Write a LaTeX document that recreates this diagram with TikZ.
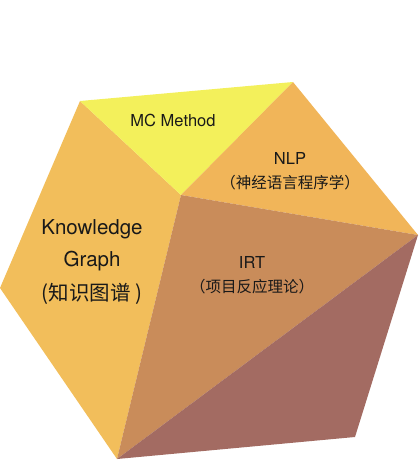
\documentclass[tikz,border=0pt]{standalone}
\usepackage{fontspec}
\setmainfont{TeX Gyre Heros}
\newfontfamily\cjk{Noto Sans CJK SC}
\usetikzlibrary{positioning}

\definecolor{mcyellow}{HTML}{F3F05B}
\definecolor{kgorange}{HTML}{F2BE5B}
\definecolor{nlporange}{HTML}{F1B559}
\definecolor{irtbrown}{HTML}{C98C5A}
\definecolor{basebrown}{HTML}{A36B62}

\begin{document}
\begin{tikzpicture}[x=1pt, y=-1pt,
    lbl/.style={align=center, inner sep=0pt, text=black!90},
    small/.style={lbl, font=\fontsize{16.5}{19}\selectfont},
    smallcn/.style={lbl, font=\cjk\fontsize{15.5}{18}\selectfont},
    big/.style={lbl, font=\fontsize{20.5}{24}\selectfont},
    bigcn/.style={lbl, font=\cjk\fontsize{20.5}{24}\selectfont}]

  \useasboundingbox (0,0) rectangle (419,461);

  % corners of the solid
  \coordinate (top1) at (80,101);
  \coordinate (top2) at (293,82);
  \coordinate (mid) at (181,195);
  \coordinate (right) at (418,235);
  \coordinate (bot1) at (117,459);
  \coordinate (bot2) at (355,437);
  \coordinate (left) at (0,288);

  % faces
  \fill[kgorange] (top1) -- (mid) -- (bot1) -- (left) -- cycle;
  \fill[mcyellow] (top1) -- (top2) -- (mid) -- cycle;
  \fill[nlporange] (top2) -- (right) -- (mid) -- cycle;
  \fill[irtbrown] (mid) -- (right) -- (bot1) -- cycle;
  \fill[basebrown] (right) -- (bot2) -- (bot1) -- cycle;

  % labels
  \node[small] (mc) at (173,120.5) {MC Method};
  \node[small] (nlp) at (290,158.5) {NLP};
  \node[smallcn] (nlpcn) at (290,182.5) {（神经语言程序学）};
  \node[big] (kg) at (92,229) {Knowledge};
  \node[big] (graph) at (92,261) {Graph};
  \node[bigcn] (kgcn) at (92,293.5) {(知识图谱 )};
  \node[small] (irt) at (252,262) {IRT};
  \node[smallcn] (irtcn) at (252,287) {（项目反应理论）};
\end{tikzpicture}
\end{document}
